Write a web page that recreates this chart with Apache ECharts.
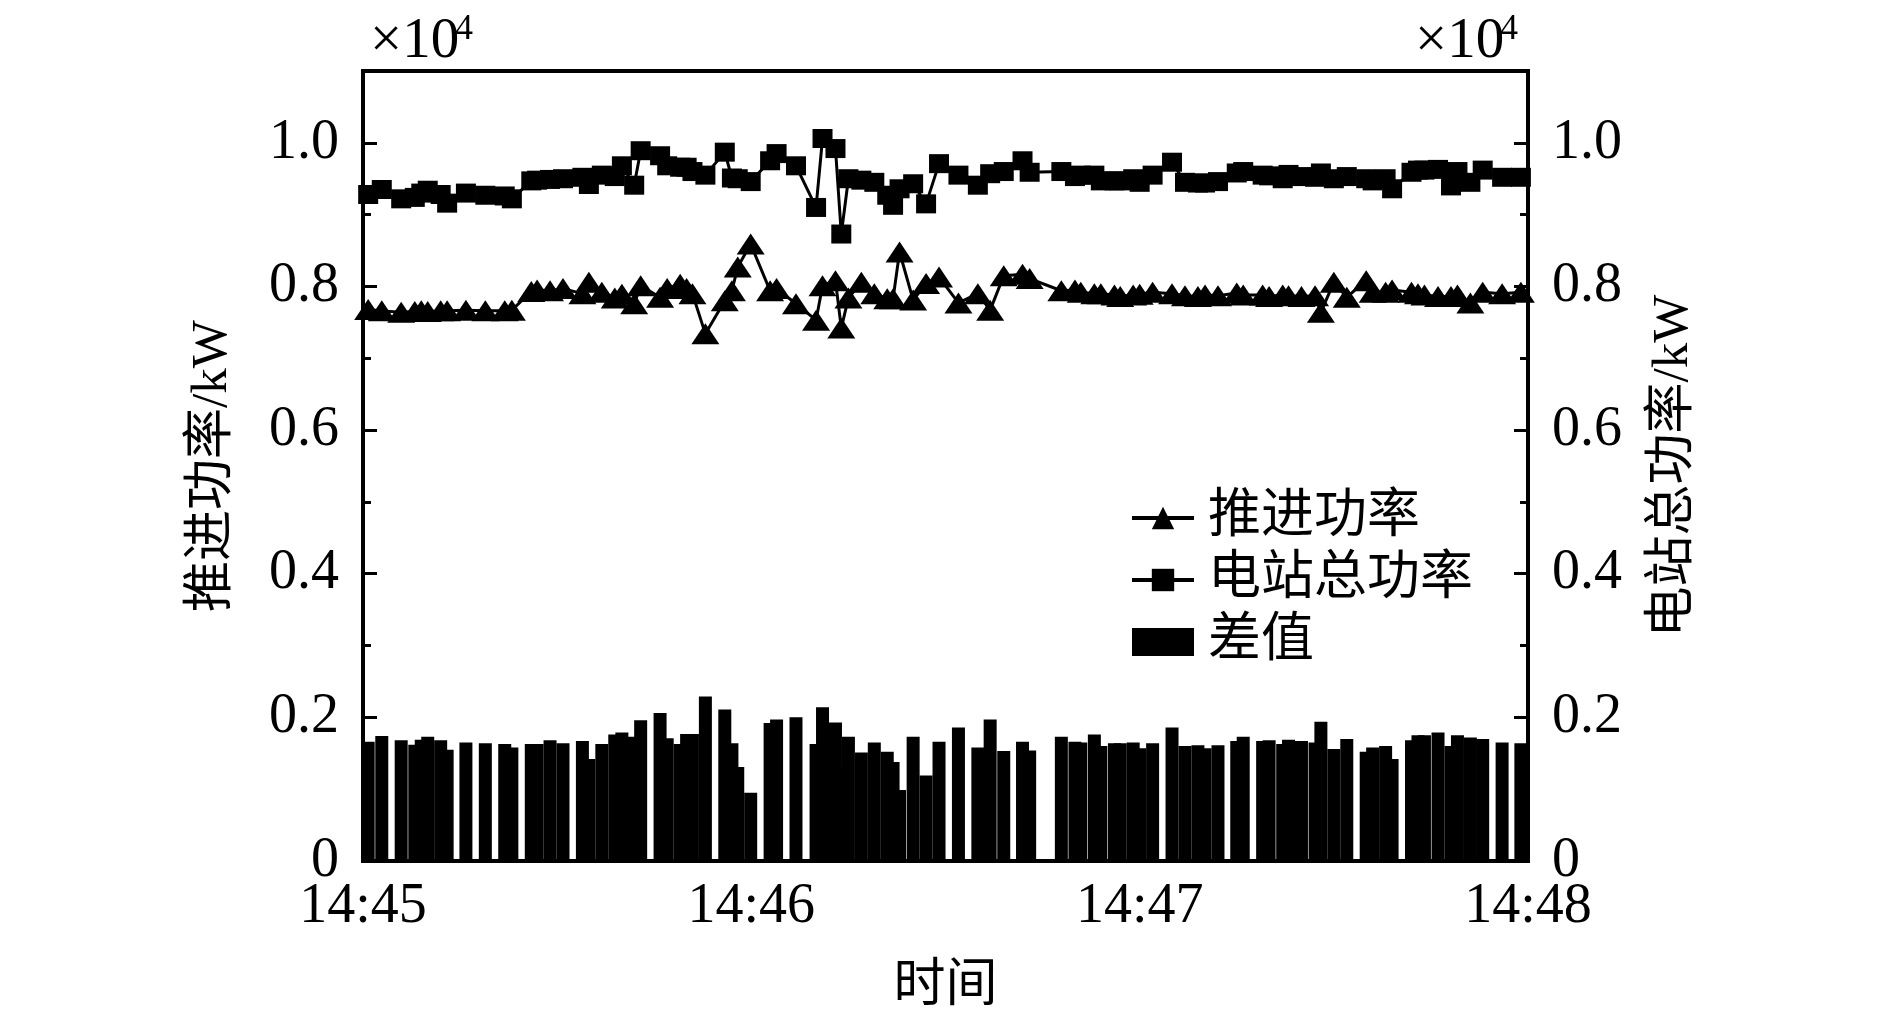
<!DOCTYPE html>
<html>
<head>
<meta charset="utf-8">
<script src="https://cdn.jsdelivr.net/npm/echarts@6/dist/echarts.min.js"></script>
<style>
html, body { margin: 0; padding: 0; background: #fff; }
#chart { width: 1890px; height: 1020px; }
</style>
</head>
<body>
<div id="chart"></div>
<script>
// Seconds after 14:45:00 for each sample
const timeSec = [
  0.8, 2.9, 5.9, 8.0, 9.0, 10.0, 12.0, 13.0, 15.9, 18.9, 21.9, 23.0,
  26.0, 26.9, 28.9, 30.9, 33.9, 34.9, 36.9, 38.9, 40.0, 41.9, 42.9, 45.9, 47.0, 49.0, 50.0, 50.9, 52.9, 55.9, 57.0, 57.9, 59.9,
  62.9, 63.9, 66.9, 70.0, 71.0, 73.0, 73.9, 75.0, 77.0, 79.0, 81.0, 81.9, 82.9, 85.0, 87.0, 89.0, 92.0, 95.0, 96.9, 99.0, 101.9, 103.0,
  107.9, 110.0, 110.9, 113.0, 114.0, 116.1, 117.0, 119.0, 120.0, 122.0,
  125.0, 127.0, 129.0, 130.1, 132.1, 135.0, 136.0, 139.0, 140.0, 142.1, 143.0, 145.0, 147.1, 148.0, 150.0, 152.0, 155.0, 156.0, 158.0, 159.0, 162.0, 163.0, 164.0, 166.1, 168.1, 169.1, 171.1, 173.0, 176.0, 178.9
];
// 推进功率 (x10^4 kW)
const propulsion = [
  0.768, 0.766, 0.764, 0.765, 0.766, 0.765, 0.766, 0.766, 0.767, 0.766, 0.766, 0.767,
  0.793, 0.795, 0.794, 0.797, 0.790, 0.806, 0.792, 0.784, 0.789, 0.776, 0.801, 0.785, 0.797, 0.803, 0.797, 0.790, 0.734, 0.780, 0.794, 0.827, 0.859,
  0.794, 0.797, 0.776, 0.753, 0.801, 0.808, 0.742, 0.784, 0.806, 0.790, 0.783, 0.783, 0.848, 0.781, 0.804, 0.813, 0.777, 0.790, 0.767, 0.815, 0.817, 0.811,
  0.794, 0.795, 0.792, 0.790, 0.790, 0.788, 0.786, 0.788, 0.789, 0.792,
  0.790, 0.787, 0.786, 0.788, 0.787, 0.791, 0.788, 0.788, 0.786, 0.788, 0.787, 0.786, 0.787, 0.764, 0.806, 0.785, 0.808, 0.792, 0.792, 0.795, 0.792, 0.790, 0.788, 0.786, 0.786, 0.788, 0.777, 0.792, 0.790, 0.792
];
// 电站总功率 (x10^4 kW)
const station = [
  0.928, 0.935, 0.922, 0.924, 0.930, 0.934, 0.928, 0.916, 0.930, 0.927, 0.926, 0.922,
  0.947, 0.948, 0.949, 0.950, 0.952, 0.942, 0.955, 0.953, 0.968, 0.941, 0.989, 0.982, 0.968, 0.966, 0.966, 0.960, 0.955, 0.987, 0.951, 0.950, 0.946,
  0.975, 0.985, 0.968, 0.910, 1.006, 0.992, 0.873, 0.950, 0.948, 0.945, 0.927, 0.913, 0.936, 0.943, 0.915, 0.971, 0.955, 0.941, 0.957, 0.960, 0.975, 0.959,
  0.960, 0.953, 0.955, 0.955, 0.947, 0.947, 0.947, 0.950, 0.945, 0.955,
  0.973, 0.945, 0.944, 0.944, 0.946, 0.958, 0.960, 0.955, 0.954, 0.950, 0.956, 0.953, 0.952, 0.958, 0.950, 0.953, 0.950, 0.947, 0.950, 0.936, 0.959, 0.962, 0.962, 0.963, 0.940, 0.960, 0.945, 0.962, 0.952, 0.952
];
// 差值 (x10^4 kW)
const difference = [
  0.166, 0.174, 0.168, 0.162, 0.169, 0.173, 0.168, 0.155, 0.165, 0.164, 0.163, 0.158,
  0.163, 0.163, 0.168, 0.164, 0.167, 0.142, 0.163, 0.176, 0.179, 0.173, 0.196, 0.206, 0.171, 0.163, 0.177, 0.177, 0.229, 0.211, 0.164, 0.131, 0.095,
  0.192, 0.197, 0.200, 0.163, 0.214, 0.193, 0.131, 0.173, 0.151, 0.165, 0.152, 0.138, 0.099, 0.173, 0.119, 0.166, 0.186, 0.158, 0.197, 0.153, 0.166, 0.154,
  0.173, 0.166, 0.165, 0.176, 0.160, 0.164, 0.164, 0.165, 0.157, 0.164,
  0.186, 0.160, 0.161, 0.157, 0.161, 0.167, 0.173, 0.167, 0.168, 0.163, 0.169, 0.167, 0.165, 0.194, 0.156, 0.170, 0.152, 0.158, 0.160, 0.142, 0.168, 0.175, 0.175, 0.179, 0.160, 0.175, 0.172, 0.170, 0.165, 0.164
];
const xTickLabels = ['14:45', '14:46', '14:47', '14:48'];
const seriesNames = ['推进功率', '电站总功率', '差值'];
const yAxisNames = ['推进功率/kW', '电站总功率/kW'];
const xAxisName = '时间';
const scaleNote = ['×10', '4'];

const FONT = "'Liberation Serif', 'Noto Sans CJK SC', serif";
const chart = echarts.init(document.getElementById('chart'), null, { renderer: 'canvas' });

const yLabelFmt = v => (Math.abs(v) < 1e-9 ? '0' : v.toFixed(1));
function makeY(idx) {
  return {
    type: 'value',
    position: idx === 0 ? 'left' : 'right',
    min: 0, max: 1.1, interval: 0.2,
    name: yAxisNames[idx],
    nameLocation: 'middle',
    nameRotate: 90,
    nameGap: idx === 0 ? 125 : 120,
    nameTextStyle: { fontFamily: FONT, fontSize: 51, color: '#000' },
    axisLine: { show: true, onZero: false, lineStyle: { color: '#000', width: 4 } },
    axisTick: { show: true, inside: true, length: 14, lineStyle: { color: '#000', width: 3 } },
    minorTick: { show: true, splitNumber: 2, length: 8, lineStyle: { color: '#000', width: 3 } },
    splitLine: { show: false },
    axisLabel: { showMaxLabel: false, formatter: yLabelFmt, fontFamily: FONT, fontSize: 56, color: '#000', margin: 24 }
  };
}

const option = {
  animation: false,
  backgroundColor: '#fff',
  grid: { left: 363, right: 362, top: 71, bottom: 159, show: true, borderColor: '#000', borderWidth: 4, backgroundColor: 'transparent' },
  xAxis: {
    type: 'value', min: 0, max: 180, interval: 60,
    name: xAxisName, nameLocation: 'middle', nameGap: 100,
    nameTextStyle: { fontFamily: FONT, fontSize: 52, color: '#000' },
    axisLine: { show: true, onZero: false, lineStyle: { color: '#000', width: 4 } },
    axisTick: { show: false },
    splitLine: { show: false },
    axisLabel: { formatter: v => xTickLabels[Math.round(v / 60)], fontFamily: FONT, fontSize: 56, color: '#000', margin: 18 }
  },
  yAxis: [makeY(0), makeY(1)],
  legend: {
    orient: 'vertical', left: 1125, top: 485,
    itemWidth: 62, itemHeight: 28, itemGap: 6,
    lineStyle: { width: 4, color: '#000' },
    textStyle: { fontFamily: FONT, fontSize: 53, color: '#000', lineHeight: 56, padding: [0, 0, 0, 9] },
    data: [{ name: seriesNames[0] }, { name: seriesNames[1] }, { name: seriesNames[2], icon: 'rect' }]
  },
  graphic: [
    { type: 'text', left: 370, top: 14, style: { text: scaleNote[0], font: '57px ' + FONT, fill: '#000' } },
    { type: 'text', left: 455, top: 12, style: { text: scaleNote[1], font: '36px ' + FONT, fill: '#000' } },
    { type: 'text', left: 1415, top: 14, style: { text: scaleNote[0], font: '57px ' + FONT, fill: '#000' } },
    { type: 'text', left: 1500, top: 12, style: { text: scaleNote[1], font: '36px ' + FONT, fill: '#000' } }
  ],
  series: [
    {
      name: seriesNames[2], type: 'bar', yAxisIndex: 0, barWidth: 13, z: 1,
      itemStyle: { color: '#000' },
      data: timeSec.map((t, i) => [t, difference[i]])
    },
    {
      name: seriesNames[0], type: 'line', yAxisIndex: 0, z: 3,
      symbol: 'triangle', symbolSize: [28, 21],
      lineStyle: { color: '#000', width: 3 }, itemStyle: { color: '#000' },
      data: timeSec.map((t, i) => [t, propulsion[i]])
    },
    {
      name: seriesNames[1], type: 'line', yAxisIndex: 1, z: 3,
      symbol: 'rect', symbolSize: [20, 19],
      lineStyle: { color: '#000', width: 3 }, itemStyle: { color: '#000' },
      data: timeSec.map((t, i) => [t, station[i]])
    }
  ]
};
chart.setOption(option);
</script>
</body>
</html>
